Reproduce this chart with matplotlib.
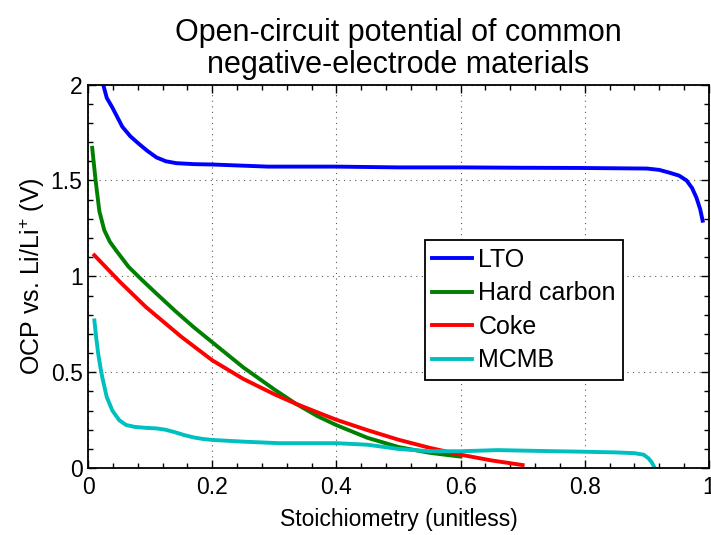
import matplotlib.pyplot as plt
from matplotlib.ticker import MultipleLocator, FormatStrFormatter

plt.rcParams['font.family'] = ['Liberation Sans', 'DejaVu Sans']
plt.rcParams['mathtext.fontset'] = 'custom'
plt.rcParams['mathtext.rm'] = 'Liberation Sans'

# LTO
lto_x = [0.02, 0.03, 0.039, 0.047, 0.055, 0.068, 0.082, 0.095, 0.11, 0.125, 0.142, 0.17, 0.2, 0.29, 0.4, 0.5, 0.6, 0.7,
         0.79, 0.9, 0.92, 0.937, 0.952, 0.964, 0.973, 0.98, 0.986, 0.99]
lto_y = [2.05, 1.93, 1.88, 1.83, 1.78, 1.73, 1.69, 1.655, 1.62, 1.60, 1.59, 1.585, 1.583, 1.572, 1.572, 1.568, 1.568, 1.566,
         1.565, 1.562, 1.555, 1.54, 1.525, 1.50, 1.46, 1.41, 1.35, 1.29]

# Hard carbon
hc_x = [0.0065, 0.012, 0.018, 0.026, 0.035, 0.045, 0.065, 0.087, 0.11, 0.14, 0.17, 0.2, 0.25, 0.3, 0.335, 0.37, 0.4,
        0.45, 0.5, 0.55, 0.6]
hc_y = [1.67, 1.50, 1.34, 1.24, 1.18, 1.135, 1.05, 0.98, 0.91, 0.82, 0.735, 0.656, 0.525, 0.41, 0.335, 0.27, 0.224,
        0.158, 0.11, 0.08, 0.06]

# Coke
coke_x = [0.01, 0.05, 0.093, 0.15, 0.2, 0.25, 0.3, 0.335, 0.37, 0.4, 0.45, 0.5, 0.55, 0.6, 0.65, 0.7]
coke_y = [1.11, 0.975, 0.84, 0.685, 0.562, 0.465, 0.385, 0.335, 0.29, 0.252, 0.198, 0.148, 0.106, 0.07, 0.04, 0.016]

# MCMB
mcmb_x = [0.01, 0.013, 0.016, 0.02, 0.023, 0.03, 0.039, 0.05, 0.061, 0.075, 0.093, 0.11, 0.125, 0.14, 0.155, 0.17, 0.185,
          0.2, 0.25, 0.308, 0.4, 0.45, 0.5, 0.55, 0.6, 0.66, 0.72, 0.79, 0.85, 0.88, 0.895, 0.903, 0.908, 0.913]
mcmb_y = [0.77, 0.68, 0.60, 0.52, 0.47, 0.37, 0.30, 0.25, 0.225, 0.215, 0.21, 0.207, 0.2, 0.187, 0.172, 0.16, 0.152,
          0.147, 0.138, 0.13, 0.13, 0.122, 0.10, 0.088, 0.088, 0.094, 0.09, 0.086, 0.082, 0.078, 0.07, 0.05, 0.03, 0.0]

fig = plt.figure(figsize=(7.11, 5.35), dpi=100)
ax = fig.add_axes([0.124, 0.125, 0.873, 0.717])

lw = 2.8
ax.plot(lto_x, lto_y, color=(0, 0, 1), lw=lw, label='LTO')
ax.plot(hc_x, hc_y, color=(0, 0.5, 0), lw=lw, label='Hard carbon')
ax.plot(coke_x, coke_y, color=(1, 0, 0), lw=lw, label='Coke')
ax.plot(mcmb_x, mcmb_y, color=(0, 0.75, 0.75), lw=lw, label='MCMB')

ax.set_xlim(0, 1)
ax.set_ylim(0, 2)
ax.xaxis.set_major_locator(MultipleLocator(0.2))
ax.xaxis.set_minor_locator(MultipleLocator(0.04))
ax.yaxis.set_major_locator(MultipleLocator(0.5))
ax.yaxis.set_minor_locator(MultipleLocator(0.1))
ax.xaxis.set_major_formatter(FormatStrFormatter('%g'))
ax.yaxis.set_major_formatter(FormatStrFormatter('%g'))
ax.tick_params(which='both', direction='in', top=True, right=True, labelsize=16.5)
ax.tick_params(which='major', length=6, width=1, pad=4)
ax.tick_params(axis='x', which='major', pad=6)
ax.tick_params(which='minor', length=3.5, width=1)
for s in ax.spines.values():
    s.set_linewidth(1.3)
ax.grid(True, which='major', linestyle=(0, (1, 4)), color='0.35', lw=0.8)

ax.set_xlabel('Stoichiometry (unitless)', fontsize=16.5, labelpad=6)
ax.set_ylabel('OCP vs. Li/Li$^{+}$ (V)', fontsize=18, labelpad=3)
ax.set_title('Open-circuit potential of common\nnegative-electrode materials', fontsize=22, linespacing=1.1, pad=8)

leg = ax.legend(loc='upper left', bbox_to_anchor=(0.542, 0.594), fontsize=18, fancybox=False,
                framealpha=1, edgecolor='black', handlelength=1.6, handletextpad=0.25, borderpad=0.3,
                labelspacing=0.38, borderaxespad=0)
leg.get_frame().set_linewidth(1.3)

fig.savefig('out.png', dpi=100)
